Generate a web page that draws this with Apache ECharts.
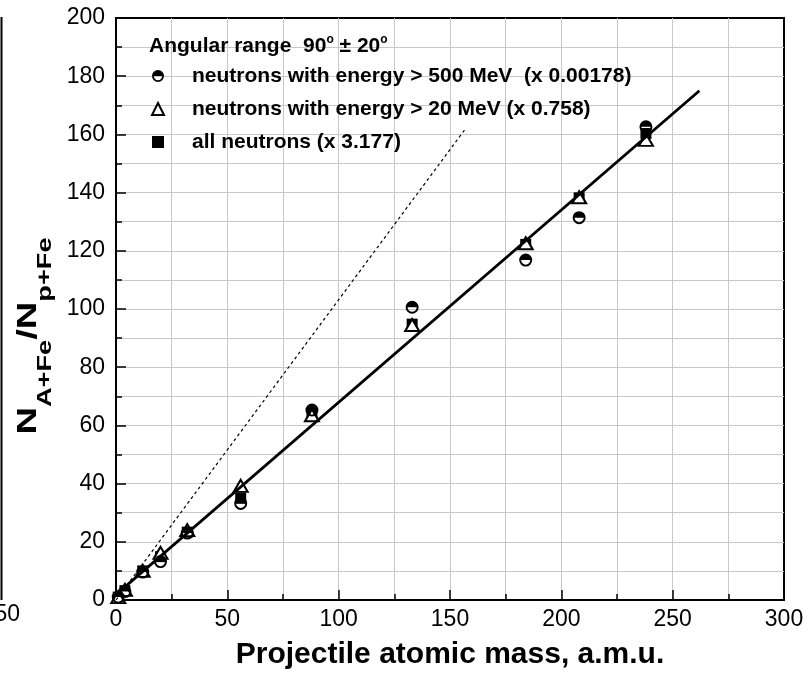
<!DOCTYPE html>
<html lang="en">

<head>
    <meta charset="UTF-8">
    <title>Neutron yield vs projectile mass</title>
    <script src="https://cdn.jsdelivr.net/npm/echarts@6/dist/echarts.min.js"></script>
    <style>
        html, body { margin: 0; padding: 0; background: #fff; }
        #chart { width: 808px; height: 679px; }
    </style>
</head>

<body>
    <div id="chart"></div>
    <script>
        // projectile atomic mass
        const mass = [1, 4, 12, 20, 32, 56, 88, 133, 184, 208, 238];
        // N(A+Fe)/N(p+Fe), already scaled as in the legend
        const above500 = [1, 2.9, 9.6, 13.2, 23, 33.2, 65.3, 100.6, 116.8, 131.4, 162.6];
        const above20 = [1, 3.5, 10, 16.2, 24, 39.2, 63.5, 94.5, 122.6, 138.4, 158.1];
        const allNeutrons = [1, 3.2, 10, 14.9, 23.3, 35, 63.5, 94.8, 122.2, 138.2, 160.3];
        // straight lines (end points)
        const fitX = [0, 262];
        const fitY = [1.85, 175];
        const dashX = [0, 157];
        const dashY = [0, 162];

        const names = [
            'neutrons with energy > 500 MeV  (x 0.00178)',
            'neutrons with energy > 20 MeV (x 0.758)',
            'all neutrons (x 3.177)'
        ];

        const font = "'Liberation Sans', Arial, sans-serif";
        const gridGray = '#c8c8c8';
        // circle, top half filled
        const halfCircle = 'path://M-10,0A10,10,0,0,1,10,0Z M-10,0L-7,0A7,7,0,0,0,7,0L10,0A10,10,0,0,1,-10,0Z';

        const pairs = (xs, ys) => xs.map((x, i) => [x, ys[i]]);

        const chart = echarts.init(document.getElementById('chart'));

        const axisCommon = {
            type: 'value',
            axisLine: { show: true, lineStyle: { color: '#000', width: 2 } },
            axisTick: { show: true, inside: true, length: 10, lineStyle: { color: '#000', width: 1.5 } },
            minorTick: { show: true, splitNumber: 2, length: 6, lineStyle: { color: '#000', width: 1.5 } },
            splitLine: { show: true, showMinLine: false, showMaxLine: false, lineStyle: { color: gridGray, width: 1 } },
            minorSplitLine: { show: true, lineStyle: { color: gridGray, width: 1 } },
            axisLabel: { color: '#000', fontSize: 23, fontFamily: font }
        };

        const option = {
            animation: false,
            backgroundColor: '#fff',
            grid: {
                left: 116, right: 24, top: 18, bottom: 79,
                show: true, borderColor: '#000', borderWidth: 2,
                outerBoundsMode: 'none'
            },
            title: {
                left: 144, top: 29,
                text: '{b|Angular range  90}{s|o}{b| \u00b1 20}{s|o}',
                textStyle: {
                    rich: {
                        b: { fontSize: 21, fontWeight: 'bold', fontFamily: font, color: '#000', lineHeight: 24 },
                        s: { fontSize: 12, fontWeight: 'bold', fontFamily: font, color: '#000', lineHeight: 12, verticalAlign: 'top' }
                    }
                }
            },
            legend: {
                orient: 'vertical',
                left: 146, top: 60,
                itemWidth: 12, itemHeight: 12, itemGap: 11,
                data: names,
                textStyle: {
                    color: '#000', fontSize: 21, fontWeight: 'bold', fontFamily: font,
                    lineHeight: 22, padding: [0, 0, 0, 23]
                }
            },
            xAxis: Object.assign({}, axisCommon, {
                min: 0, max: 300, interval: 50,
                axisLabel: Object.assign({}, axisCommon.axisLabel, { margin: 8 }),
                name: 'Projectile atomic mass, a.m.u.',
                nameLocation: 'middle', nameGap: 40,
                nameTextStyle: { color: '#000', fontSize: 30, fontWeight: 'bold', fontFamily: font }
            }),
            yAxis: Object.assign({}, axisCommon, {
                min: 0, max: 200, interval: 20,
                axisLabel: Object.assign({}, axisCommon.axisLabel, { margin: 11 })
            }),
            graphic: [
                {
                    type: 'text', x: 35, y: 336, rotation: Math.PI / 2, scaleX: 1.36,
                    style: {
                        text: '{n|N}{s|A+Fe}{n|/N}{s|p+Fe}',
                        align: 'center', verticalAlign: 'middle',
                        rich: {
                            n: { fontSize: 28, fontWeight: 'bold', fontFamily: font, fill: '#000', lineHeight: 41, verticalAlign: 'top' },
                            s: { fontSize: 20, fontWeight: 'bold', fontFamily: font, fill: '#000', lineHeight: 20, verticalAlign: 'bottom' }
                        }
                    }
                },
                // edge of the neighbouring panel
                { type: 'line', shape: { x1: 1.5, y1: 17, x2: 1.5, y2: 600 }, style: { stroke: '#000', lineWidth: 2 } },
                { type: 'text', x: 20, y: 615, style: { text: '250', align: 'right', verticalAlign: 'middle', fontSize: 23, fontFamily: font, fill: '#000' } }
            ],
            series: [
                {
                    type: 'line', data: pairs(dashX, dashY), symbol: 'none', silent: true,
                    lineStyle: { color: '#000', width: 1.2, type: [3, 3] }
                },
                {
                    type: 'line', data: pairs(fitX, fitY), symbol: 'none', silent: true,
                    lineStyle: { color: '#000', width: 2.8 }
                },
                {
                    name: names[2], type: 'scatter', data: pairs(mass, allNeutrons),
                    symbol: 'rect', symbolSize: 11,
                    itemStyle: { color: '#000', opacity: 1 }
                },
                {
                    name: names[1], type: 'scatter', data: pairs(mass, above20),
                    symbol: 'triangle', symbolSize: [14, 12],
                    itemStyle: { color: '#fff', borderColor: '#000', borderWidth: 2, opacity: 1 }
                },
                {
                    name: names[0], type: 'scatter', data: pairs(mass, above500),
                    symbol: halfCircle, symbolSize: 13, symbolKeepAspect: true,
                    itemStyle: { color: '#000', opacity: 1 }
                }
            ]
        };

        chart.setOption(option);
    </script>
</body>

</html>
